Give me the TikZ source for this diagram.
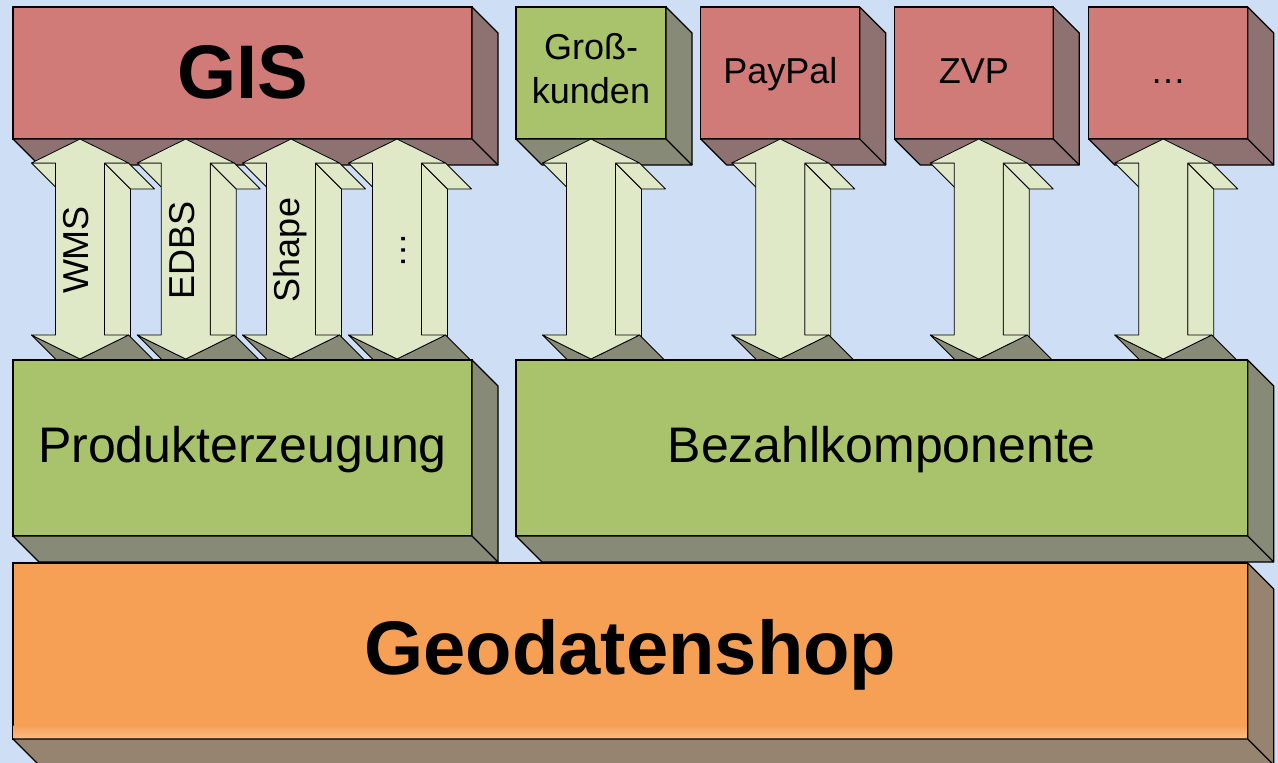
\documentclass[tikz,border=0pt]{standalone}
\usepackage{fontspec}
\setmainfont{Liberation Sans}
\definecolor{bg}{RGB}{206,223,245}
\definecolor{redF}{RGB}{209,123,121}
\definecolor{redS}{RGB}{142,114,114}
\definecolor{grnF}{RGB}{169,195,109}
\definecolor{grnS}{RGB}{134,138,118}
\definecolor{orgF}{RGB}{246,160,85}
\definecolor{orgS}{RGB}{150,131,112}
\definecolor{arrF}{RGB}{223,233,200}
\definecolor{arrS}{RGB}{134,138,118}
\newcommand\extrude[2]{%
  \filldraw[fill=#2, draw=black, line width=1.2pt, line join=round]
    (#1.north east) -- ++(26,26) -- ([shift={(26,26)}]#1.south east)
    -- ([shift={(26,26)}]#1.south west) -- (#1.south west) -- (#1.south east) -- cycle;
  \draw[line width=1.2pt] (#1.south east) -- ++(26,26);
}
\tikzset{
  box/.style={draw=black, line width=1.2pt, inner sep=0pt, outer sep=0pt, align=center},
  smalltxt/.style={font=\fontsize{36}{44}\selectfont},
  onesmall/.style={smalltxt, text height=28, text depth=7.4},
  midtxt/.style={font=\fontsize{50}{60}\selectfont, text height=40, text depth=10.6},
  bigtxt/.style={font=\fontsize{76}{90}\selectfont\bfseries},
  arrlbl/.style={font=\fontsize{36}{44}\selectfont, rotate=90, inner sep=0pt, text height=27, text depth=9},
  arrline/.style={draw=black, line width=0.8pt, line join=round},
  dblarrow/.pic={
    \filldraw[arrline, fill=arrF] (24.5,24) -- (50.5,50) -- (50.5,222) -- (24.5,196) -- cycle;
    \filldraw[arrline, fill=arrF] (24.5,24) -- (48.5,24) -- (74.5,50) -- (50.5,50) -- cycle;
    \filldraw[arrline, fill=arrF] (-48.5,24) -- (-24.5,24) -- (1.5,50) -- (-22.5,50) -- cycle;
    \filldraw[arrline, fill=arrS] (48.5,196) -- (0,220) -- (26,246) -- (74.5,222) -- cycle;
    \filldraw[arrline, fill=arrS] (-48.5,196) -- (0,220) -- (26,246) -- (-22.5,222) -- cycle;
    \filldraw[arrline, fill=arrF] (0,0) -- (48.5,24) -- (24.5,24) -- (24.5,196) -- (48.5,196)
      -- (0,220) -- (-48.5,196) -- (-24.5,196) -- (-24.5,24) -- (-48.5,24) -- cycle;
  }
}
\begin{document}
\begin{tikzpicture}[x=1pt, y=-1pt]
\useasboundingbox (0,0) rectangle (1278,763);
\clip (0,0) rectangle (1278,763);
\fill[bg] (0,0) rectangle (1278,763);

% top row
\node[box, fill=redF, minimum width=459, minimum height=132, bigtxt, text height=55.5, text depth=5] (gis) at (242.5,73) {GIS};
\extrude{gis}{redS}
\node[box, fill=grnF, minimum width=150, minimum height=132, smalltxt] (gk) at (591,73) {\strut Groß-\\kunden\strut};
\extrude{gk}{grnS}
\node[box, fill=redF, minimum width=159, minimum height=132, onesmall] (paypal) at (780.3,73) {PayPal};
\extrude{paypal}{redS}
\node[box, fill=redF, minimum width=159, minimum height=132, onesmall] (zvp) at (973.8,73) {ZVP};
\extrude{zvp}{redS}
\node[box, fill=redF, minimum width=159, minimum height=132, onesmall] (more) at (1168.2,73) {…};
\extrude{more}{redS}

% arrows
\pic at ([xshift=67]gis.south west) {dblarrow};
\pic at ([xshift=172.7]gis.south west) {dblarrow};
\pic at ([xshift=278]gis.south west) {dblarrow};
\pic at ([xshift=384]gis.south west) {dblarrow};
\pic at (gk.south) {dblarrow};
\pic at (paypal.south) {dblarrow};
\pic at ([xshift=5]zvp.south) {dblarrow};
\pic at ([xshift=-5]more.south) {dblarrow};

\node[arrlbl] (lwms) at (79.5,250) {WMS};
\node[arrlbl] (ledbs) at (185.2,250) {EDBS};
\node[arrlbl] (lshape) at (290.5,250) {Shape};
\node[arrlbl] (lmore) at (396.5,250) {…};

% middle row
\node[box, fill=grnF, minimum width=459, minimum height=176, midtxt] (prod) at (242.5,448) {Produkterzeugung};
\extrude{prod}{grnS}
\node[box, fill=grnF, minimum width=731.7, minimum height=176, midtxt] (bez) at (881.8,448) {Bezahlkomponente};
\extrude{bez}{grnS}

% bottom
\node[box, fill=orgF, minimum width=1234.7, minimum height=176, bigtxt, text height=55, text depth=8] (geo) at (630.3,651) {Geodatenshop};
\shade[top color=orgF, bottom color=orgF!70!white] ([shift={(0.6,-14)}]geo.south west) rectangle ([shift={(-0.6,-0.6)}]geo.south east);
\extrude{geo}{orgS}
\end{tikzpicture}
\end{document}
